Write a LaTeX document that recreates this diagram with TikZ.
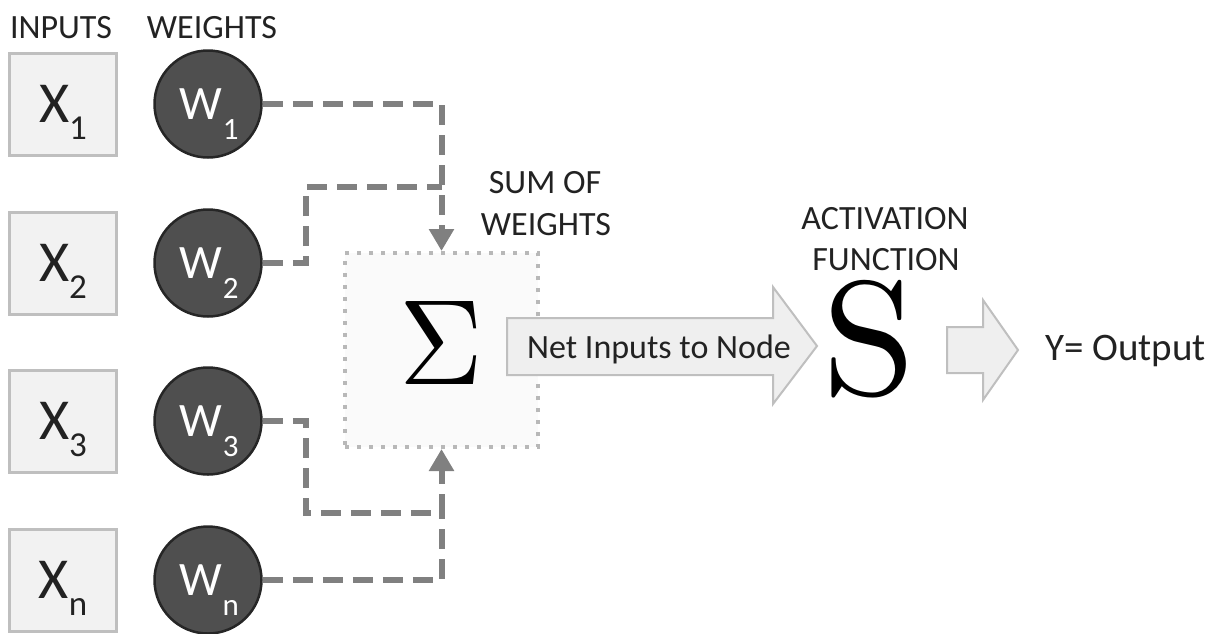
\documentclass[tikz,border=0pt]{standalone}
\usepackage{fontspec}
\newfontfamily\calfont{Carlito}
\usetikzlibrary{arrows.meta}
\definecolor{txt}{HTML}{222222}
\definecolor{boxfill}{HTML}{F2F2F2}
\definecolor{boxline}{HTML}{BFBFBF}
\definecolor{dotline}{HTML}{B8B8B8}
\definecolor{wfill}{HTML}{4F4F4F}
\definecolor{wline}{HTML}{262626}
\definecolor{dashgray}{HTML}{808080}
\definecolor{arrfill}{HTML}{EFEFEF}
\definecolor{arrline}{HTML}{BFBFBF}
\definecolor{sumfill}{HTML}{FAFAFA}
\newcommand\xlab[1]{{\calfont\fontsize{58}{58}\selectfont X\raisebox{-17pt}{\fontsize{35}{35}\selectfont #1}}}
\newcommand\wlab[1]{{\calfont\fontsize{48}{48}\selectfont W\kern1pt\raisebox{-20pt}{\fontsize{31}{31}\selectfont #1}}}
\begin{document}
\begin{tikzpicture}[x=1pt,y=-1pt,
  inbox/.style={draw=boxline,fill=boxfill,line width=3pt,minimum width=107pt,minimum height=102pt,inner sep=0pt},
  wcirc/.style={circle,draw=wline,fill=wfill,line width=2.5pt,minimum size=107pt,inner sep=0pt},
  lbl/.style={anchor=base,inner sep=0pt,text=txt,font=\calfont\fontsize{34}{34}\selectfont},
  conn/.style={draw=dashgray,line width=6pt,dash pattern=on 20pt off 10pt},
  tip/.style={-{Triangle[width=24pt,length=22pt]}},
  bigarrow/.style={draw=arrline,fill=arrfill,line width=2pt,line join=miter}
]
\useasboundingbox (0,0) rectangle (1214,633);

% headers
\node[lbl] (hin) at (61,38) {INPUTS};
\node[lbl] (hw) at (212,38) {WEIGHTS};

% input boxes and weights
\foreach \i/\y/\s in {1/104/1,2/263/2,3/421/3,n/580/n}{
  \node[inbox] (x\i) at (63,\y) {};
  \node[anchor=base,inner sep=0pt,text=txt] (xt\i) at (63,\y+18) {\xlab{\s}};
  \node[wcirc] (w\i) at (208,\y) {};
  \node[anchor=base,inner sep=0pt,text=white] (wt\i) at (209,\y+15) {\wlab{\s}};
}

% sum box
\node[draw=dotline,fill=sumfill,line width=4pt,dash pattern=on 4pt off 8pt,
      minimum width=193pt,minimum height=194pt,inner sep=0pt] (sum) at (441.5,350) {};
\node[inner sep=0pt] (sigma) at (441,343) {\scalebox{11.6}[12.15]{$\Sigma$}};
\node[lbl] (sum1) at (545,193) {SUM OF};
\node[lbl] (sum2) at (546,235) {WEIGHTS};

% junctions
\coordinate (j2) at (441.5,187);
\coordinate (j3) at (441.5,513);

% dashed connectors
\draw[conn,tip] (w1.east) -| (sum.north);
\draw[conn] (w2.east) -- ++(43,0) |- (j2);
\draw[conn,tip] (w3.east) -- ++(43,0) |- (j3) -- (sum.south);
\draw[conn] (wn.east) -| (j3);

% net inputs arrow
\draw[bigarrow] (507,318) -- (773,318) -- (773,287) -- (817,346) -- (773,404) -- (773,375) -- (507,375) -- cycle;
\node[anchor=base west,inner sep=0pt,text=txt,font=\calfont\fontsize{34}{34}\selectfont] (net) at (527,358) {Net Inputs to Node};

% activation
\node[lbl] (act1) at (885,229) {ACTIVATION};
\node[lbl] (act2) at (886,270) {FUNCTION};
\node[inner sep=0pt,text=black] (S) at (869,339) {\scalebox{16.8}[16.2]{\fontsize{10}{10}\selectfont S}};

% output arrow
\draw[bigarrow] (947,327) -- (983,327) -- (983,300) -- (1018,350) -- (983,400) -- (983,373) -- (947,373) -- cycle;
\node[anchor=base west,inner sep=0pt,text=txt,font=\calfont\fontsize{39}{39}\selectfont] (out) at (1045,360) {Y= Output};
\end{tikzpicture}
\end{document}
